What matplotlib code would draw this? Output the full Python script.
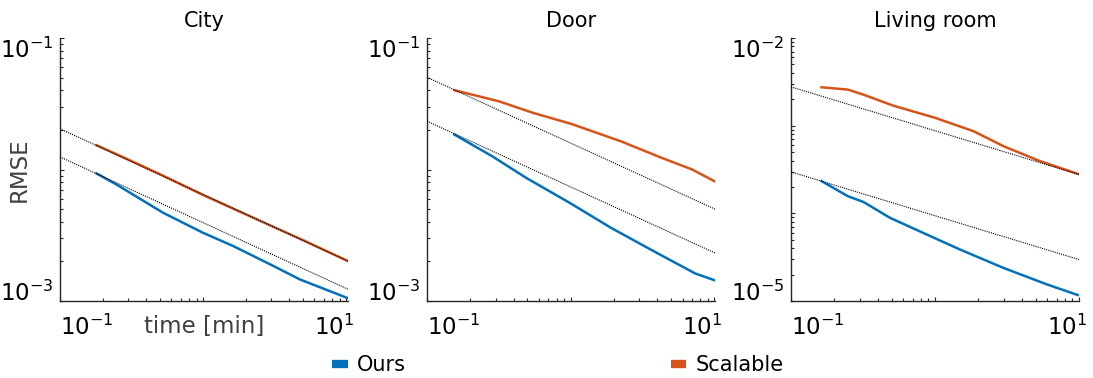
import matplotlib
matplotlib.use("Agg")
import matplotlib.pyplot as plt
from matplotlib.lines import Line2D
from matplotlib.transforms import ScaledTranslation
import numpy as np

plt.rcParams["font.family"] = ["DejaVu Sans"]

titles = ["City", "Door", "Living room"]
series_names = ["Ours", "Scalable"]
colors = {"Ours": "#0072BD", "Scalable": "#D95319"}

# City
city_t_ours = [0.18, 0.248, 0.525, 1.0, 1.62, 3.09, 4.74, 10.3]
city_ours = [0.00933, 0.00769, 0.00469, 0.00330, 0.00262, 0.00185, 0.00146, 0.00105]
city_t_scal = [0.18, 0.3, 0.5, 1.0, 2.49, 5.0, 10.3]
city_scal = [0.0153, 0.0119, 0.0092, 0.00640, 0.00408, 0.00290, 0.00201]

# Door
door_t_ours = [0.155, 0.284, 0.489, 1.0, 1.90, 3.84, 7.35, 10.0]
door_ours = [0.01845, 0.01262, 0.00865, 0.00552, 0.00361, 0.00237, 0.00162, 0.00144]
door_t_scal = [0.155, 0.317, 0.55, 1.0, 2.23, 4.27, 7.0, 10.0]
door_scal = [0.0401, 0.0330, 0.0269, 0.0223, 0.0164, 0.0123, 0.0100, 0.00815]

# Living room
liv_t_ours = [0.163, 0.248, 0.318, 0.487, 0.875, 1.49, 2.98, 5.96, 9.8]
liv_ours = [2.33e-4, 1.57e-4, 1.35e-4, 8.89e-5, 5.74e-5, 3.87e-5, 2.39e-5, 1.55e-5, 1.17e-5]
liv_t_scal = [0.163, 0.248, 0.318, 0.514, 1.0, 1.85, 2.99, 5.36, 9.8]
liv_scal = [2.74e-3, 2.58e-3, 2.26e-3, 1.69e-3, 1.23e-3, 8.65e-4, 5.83e-4, 3.94e-4, 2.82e-4]

# reference lines: value at t = 0.1, slope -1/2 in log-log
ref_at_01 = [[0.0204, 0.01247], [0.0502, 0.0233], [0.00277, 0.000297]]
ref_slope = -0.5

ylims = [(1e-3, 1e-1), (1e-3, 1e-1), (1e-5, 1e-2)]
xlims = [(0.1, 10.3), (0.1, 10.1), (0.1, 10.0)]
panels = [
    (city_t_ours, city_ours, city_t_scal, city_scal),
    (door_t_ours, door_ours, door_t_scal, door_scal),
    (liv_t_ours, liv_ours, liv_t_scal, liv_scal),
]

W, H = 1093, 378
fig = plt.figure(figsize=(W / 100, H / 100), dpi=100)
lefts = [60, 427, 791]
axc = "#262626"

for i, (to, yo, ts, ys) in enumerate(panels):
    ax = fig.add_axes([lefts[i] / W, 1 - 301 / H, 288 / W, 263 / H])
    ax.set_xscale("log")
    ax.set_yscale("log")
    ax.set_xlim(*xlims[i])
    ax.set_ylim(*ylims[i])

    xr = np.array(xlims[i])
    for c in ref_at_01[i]:
        ax.plot(xr, c * (xr / 0.1) ** ref_slope, ls=(0, (1, 1)), color="black",
                lw=0.8, zorder=3)
    ax.plot(to, yo, color=colors["Ours"], lw=1.8, zorder=2)
    ax.plot(ts, ys, color=colors["Scalable"], lw=1.8, zorder=2)

    for s in ["top", "right"]:
        ax.spines[s].set_visible(False)
    for s in ["left", "bottom"]:
        ax.spines[s].set_color(axc)
        ax.spines[s].set_linewidth(1.0)
    ax.tick_params(which="both", direction="in", colors=axc, labelcolor="black",
                   labelsize=16.5, width=0.8)
    ax.tick_params(which="major", length=3)
    ax.tick_params(which="minor", length=2)
    ax.tick_params(axis="x", pad=10)
    ax.tick_params(axis="y", pad=5)

    ax.set_xticks([0.1, 1, 10])
    ax.set_xticklabels([r"$10^{-1}$", "", r"$10^{1}$"])
    xl = ax.get_xticklabels()
    xl[0].set_ha("left")
    xl[-1].set_ha("right")
    # MATLAB-style: last label sits a little past the axis end
    xl[-1].set_transform(xl[-1].get_transform()
                         + ScaledTranslation(0.08, 0, fig.dpi_scale_trans))

    lo, hi = ylims[i]
    yt = [10.0 ** k for k in range(int(round(np.log10(lo))), int(round(np.log10(hi))) + 1)]
    ax.set_yticks(yt)
    ylabs = [""] * len(yt)
    ylabs[0] = r"$10^{%d}$" % int(round(np.log10(lo)))
    ylabs[-1] = r"$10^{%d}$" % int(round(np.log10(hi)))
    ax.set_yticklabels(ylabs)
    yl = ax.get_yticklabels()
    yl[0].set_va("baseline")
    yl[-1].set_va("top")

    ax.set_title(titles[i], fontsize=15, pad=8)
    if i == 0:
        ax.set_xlabel("time [min]", fontsize=16.5, color="#404040")
        ax.xaxis.set_label_coords(0.5, -0.055)
        ax.set_ylabel("RMSE", fontsize=16.5, color="#404040")
        ax.yaxis.set_label_coords(-0.10, 0.5)

handles = [Line2D([], [], color=colors[n], lw=6, solid_capstyle="butt") for n in series_names]
fig.legend(handles, series_names, ncol=2, loc="center",
           bbox_to_anchor=(558 / W, 1 - 365 / H), frameon=False, fontsize=15,
           handlelength=0.75, handletextpad=0.45, columnspacing=12.7)

fig.savefig("out.png", dpi=100)
